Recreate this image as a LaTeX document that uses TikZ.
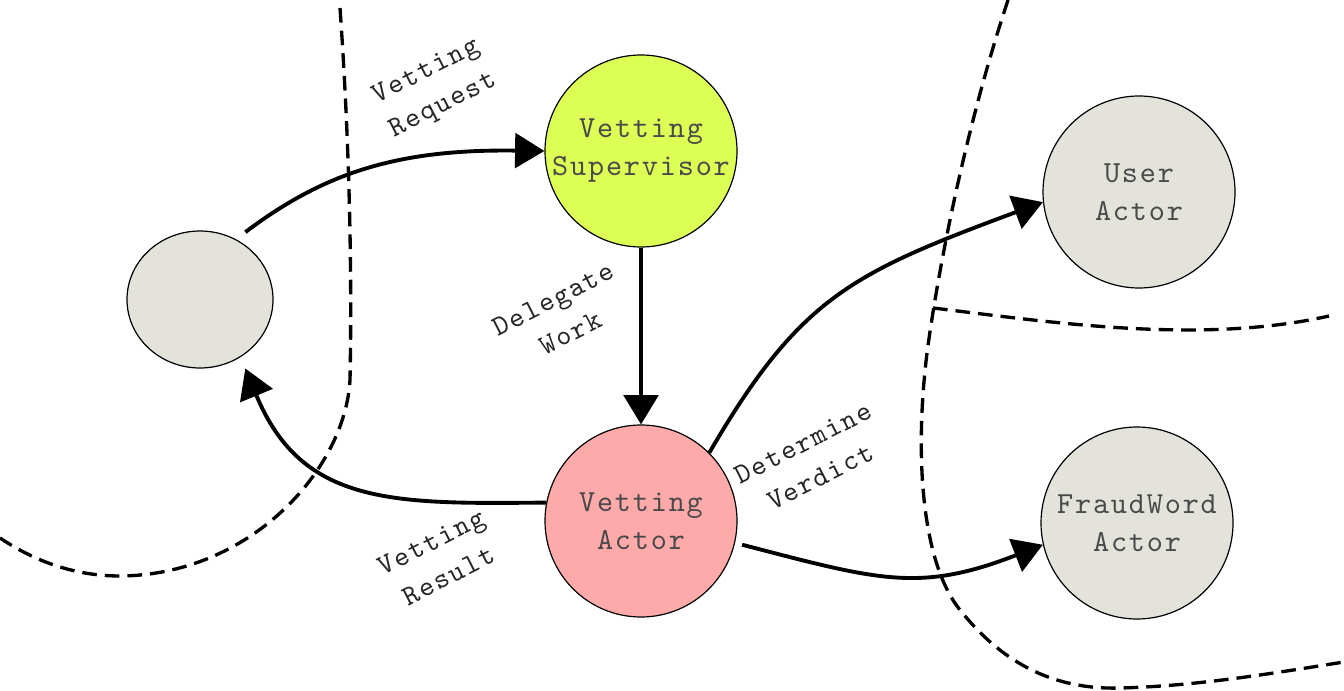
\documentclass[tikz,border=0pt]{standalone}
\usepackage{fontspec}
\newfontfamily\cour{lmmono10-regular.otf}[LetterSpace=6]
\usetikzlibrary{arrows.meta,shapes.geometric,calc}
\definecolor{gfill}{HTML}{E3E3DC}
\definecolor{yfill}{HTML}{DDFF55}
\definecolor{pfill}{HTML}{FFAAAA}
\definecolor{ntext}{HTML}{4A4A4A}
\begin{document}
\begin{tikzpicture}[x=0.75pt,y=-0.75pt,
 actor/.style={circle,draw=black,line width=0.9pt,minimum size=144pt,inner sep=0pt,align=center,text=ntext,font=\cour\fontsize{23}{28.5}\selectfont},
 flow/.style={line width=2.9pt,-{Triangle[length=22pt,width=26pt]}},
 bound/.style={line width=2.5pt,dash pattern=on 11pt off 6pt},
 lbl/.style={rotate=27,align=center,font=\cour\fontsize{21.5}{28.5}\selectfont,text=black!85}]
\useasboundingbox (0,0) rectangle (1344,691);
\fill[white] (0,0) rectangle (1344,691);
% boundaries
\draw[bound] (340,8) .. controls (350,150) and (352,280) .. (350,380)
  .. controls (345,470) and (250,575) .. (120,576)
  .. controls (70,576) and (30,558) .. (0,538);
\draw[bound] (1008,0) .. controls (965,130) and (938,270) .. (927,353)
  .. controls (915,450) and (920,560) .. (960,610)
  .. controls (1000,660) and (1050,690) .. (1120,688)
  .. controls (1200,686) and (1280,672) .. (1344,662);
\draw[bound] (933,308) .. controls (1050,322) and (1200,345) .. (1329,316);
% nodes
\node[ellipse,draw=black,line width=0.9pt,fill=gfill,minimum width=109.5pt,minimum height=102.75pt,inner sep=0pt] (L) at (200,299.5) {};
\node[actor,fill=yfill] (S) at (641,151) {Vetting\\Supervisor};
\node[actor,fill=pfill] (A) at (641,521) {Vetting\\Actor};
\node[actor,fill=gfill] (U) at (1139,192) {User\\Actor};
\node[actor,fill=gfill] (F) at (1137,523) {FraudWord\\Actor};
% labels
\node[lbl] (l1) at (435,89) {Vetting\\Request};
\node[lbl] (l2) at (562,316) {Delegate\\Work};
\node[lbl] (l3) at (440,559) {Vetting\\Result};
\node[lbl] (l4) at (812,460) {Determine\\Verdict};
% connectors
\draw[flow] ([shift={(6,-9)}]L.56) .. controls (325,172) and (399,149) .. (S.west);
\draw[flow] (S.south) -- (A.north);
\draw[flow] (A.169) .. controls (394,504) and (302,506) .. ([shift={(7,10)}]L.-57);
\draw[flow] (A.45) .. controls (800,297) and (852,273) .. (U.186);
\draw[flow] ([shift={(7,2)}]A.-13) .. controls (878,580) and (919,593) .. (F.193);
\end{tikzpicture}
\end{document}
